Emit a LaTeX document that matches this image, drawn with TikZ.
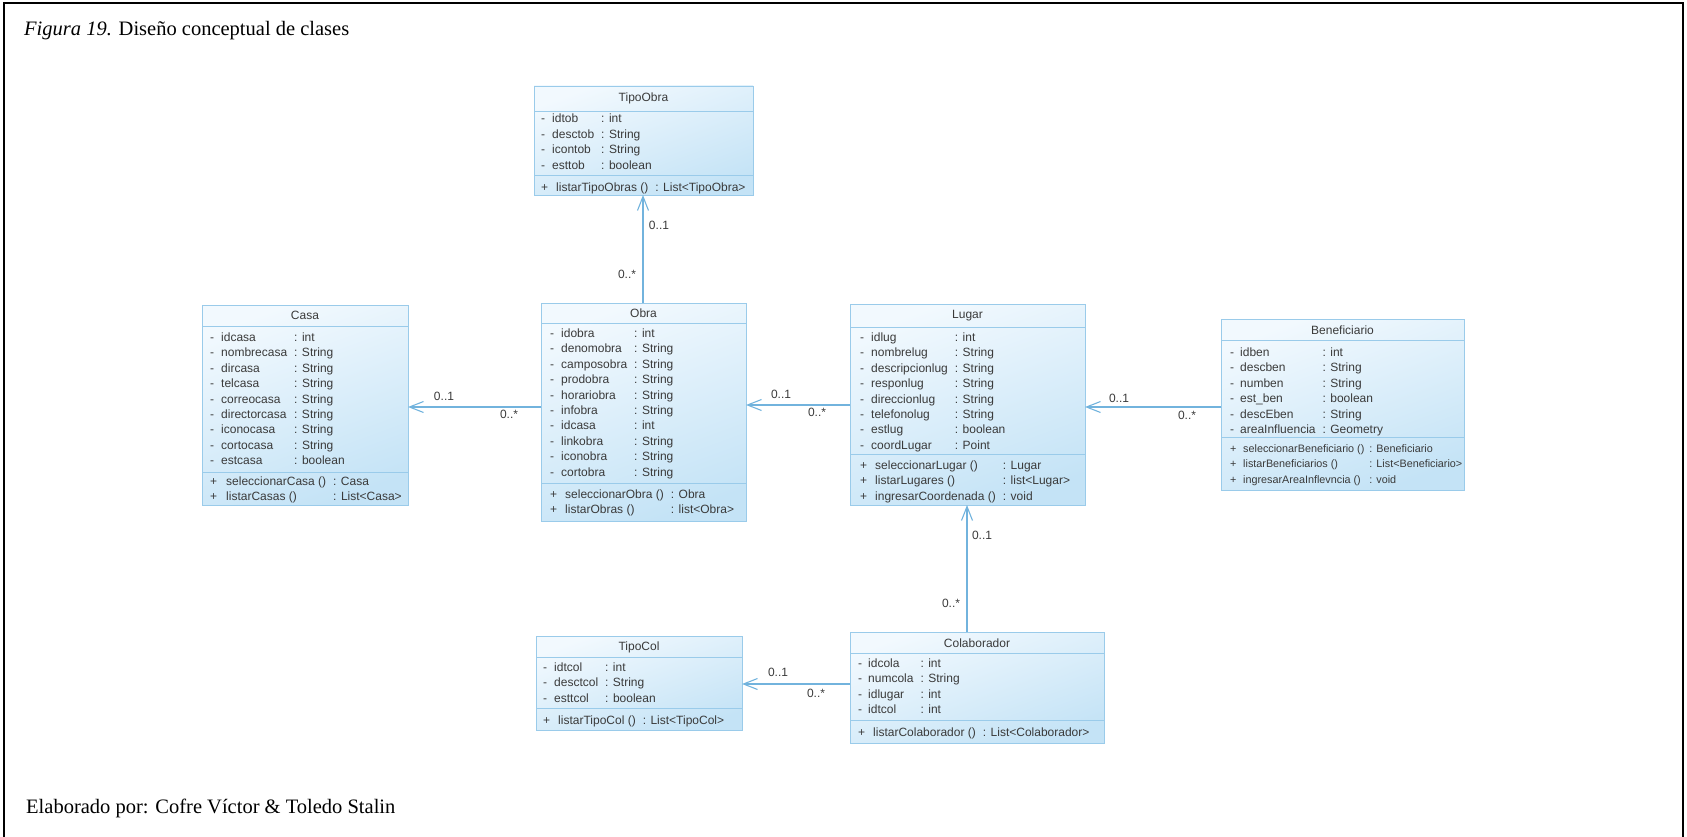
\documentclass[tikz,border=0pt]{standalone}
\usepackage{fontspec}
\setmainfont{Liberation Serif}
\newfontfamily\umlfont{Liberation Sans}
\usepackage{array}
\usetikzlibrary{arrows.meta}

\definecolor{umlline}{HTML}{9ACBEA}
\definecolor{umllight}{HTML}{F2F9FE}
\definecolor{umldark}{HTML}{C4E3F6}
\definecolor{umlink}{HTML}{3A3A3A}
\definecolor{assoccol}{HTML}{72B3DD}

% member list: visibility mark, name, type (types aligned in one column)
\newcommand\membertab[2]{\begin{tabular}{@{}w{l}{#1}@{}l@{\hspace{7pt}}l@{}}#2\end{tabular}}
\newcommand\narrowtab[2]{\begin{tabular}{@{}w{l}{#1}@{}l@{\hspace{5pt}}l@{}}#2\end{tabular}}

\tikzset{
  classbox/.style={draw=umlline, line width=0.9pt, shading=axis,
    top color=umllight, bottom color=umldark, shading angle=20,
    inner sep=0pt, outer sep=0pt, anchor=north west},
  divider/.style={draw=umlline, line width=0.9pt},
  classname/.style={font=\umlfont\fontsize{12}{15.4}\selectfont, text=umlink, inner sep=0pt},
  members/.style={font=\umlfont\fontsize{12}{15.4}\selectfont, text=umlink, inner sep=0pt, anchor=north west},
  assoc/.style={draw=assoccol, line width=1.1pt, -{Straight Barb[length=14pt,width=11pt]}},
  mult/.style={font=\umlfont\fontsize{12}{14}\selectfont, text=umlink, inner sep=0pt},
  caption/.style={font=\fontsize{20.5}{24}\selectfont, inner sep=0pt, anchor=base west},
}

\begin{document}
\begin{tikzpicture}[x=1pt,y=-1pt]
\useasboundingbox (0,0) rectangle (1687,837);

% frame
\draw[line width=2.5pt] (4,845) -- (4,3) -- (1683,3) -- (1683,845);

\node[caption] (title) at (24,36) {\textit{Figura 19.} Diseño conceptual de clases};
\node[caption] (credit) at (26,813) {Elaborado por: Cofre Víctor \& Toledo Stalin};

% ---------- TipoObra
\node[classbox, minimum width=219pt, minimum height=109pt] (tipoobra) at (534,86) {};
\draw[divider] (tipoobra.west |- 0,111) -- (tipoobra.east |- 0,111);
\draw[divider] (tipoobra.west |- 0,175) -- (tipoobra.east |- 0,175);
\node[classname] (tipoobra-n) at (tipoobra.north |- 0,98.5) {TipoObra};
\node[members] (tipoobra-a) at (541,112) {\membertab{11pt}{%
- & idtob & : int\\
- & desctob & : String\\
- & icontob & : String\\
- & esttob & : boolean}};
\node[members] (tipoobra-m) at (541,180.5) {\membertab{15pt}{%
+ & listarTipoObras () & : List<TipoObra>}};

% ---------- Casa
\node[classbox, minimum width=206pt, minimum height=200pt] (casa) at (202,305) {};
\draw[divider] (casa.west |- 0,326) -- (casa.east |- 0,326);
\draw[divider] (casa.west |- 0,472) -- (casa.east |- 0,472);
\node[classname] (casa-n) at (casa.north |- 0,315.5) {Casa};
\node[members] (casa-a) at (210,330.5) {\membertab{11pt}{%
- & idcasa & : int\\
- & nombrecasa & : String\\
- & dircasa & : String\\
- & telcasa & : String\\
- & correocasa & : String\\
- & directorcasa & : String\\
- & iconocasa & : String\\
- & cortocasa & : String\\
- & estcasa & : boolean}};
\node[members] (casa-m) at (210,474.5) {\membertab{16pt}{%
+ & seleccionarCasa () & : Casa\\
+ & listarCasas () & : List<Casa>}};

% ---------- Obra
\node[classbox, minimum width=205pt, minimum height=218pt] (obra) at (541,303) {};
\draw[divider] (obra.west |- 0,323) -- (obra.east |- 0,323);
\draw[divider] (obra.west |- 0,483) -- (obra.east |- 0,483);
\node[classname] (obra-n) at (obra.north |- 0,313) {Obra};
\node[members] (obra-a) at (550,326.5) {\membertab{11pt}{%
- & idobra & : int\\
- & denomobra & : String\\
- & camposobra & : String\\
- & prodobra & : String\\
- & horariobra & : String\\
- & infobra & : String\\
- & idcasa & : int\\
- & linkobra & : String\\
- & iconobra & : String\\
- & cortobra & : String}};
\node[members] (obra-m) at (550,487.5) {\membertab{15pt}{%
+ & seleccionarObra () & : Obra\\
+ & listarObras () & : list<Obra>}};

% ---------- Lugar
\node[classbox, minimum width=235pt, minimum height=201pt] (lugar) at (850,304) {};
\draw[divider] (lugar.west |- 0,327) -- (lugar.east |- 0,327);
\draw[divider] (lugar.west |- 0,454) -- (lugar.east |- 0,454);
\node[classname] (lugar-n) at (lugar.north |- 0,316) {Lugar};
\node[members] (lugar-a) at (860,330.5) {\membertab{11pt}{%
- & idlug & : int\\
- & nombrelug & : String\\
- & descripcionlug & : String\\
- & responlug & : String\\
- & direccionlug & : String\\
- & telefonolug & : String\\
- & estlug & : boolean\\
- & coordLugar & : Point}};
\node[members] (lugar-m) at (860,458.5) {\membertab{15pt}{%
+ & seleccionarLugar () & : Lugar\\
+ & listarLugares () & : list<Lugar>\\
+ & ingresarCoordenada () & : void}};

% ---------- Beneficiario
\node[classbox, minimum width=243pt, minimum height=171pt] (benef) at (1221,319) {};
\draw[divider] (benef.west |- 0,340) -- (benef.east |- 0,340);
\draw[divider] (benef.west |- 0,437) -- (benef.east |- 0,437);
\node[classname] (benef-n) at (benef.north |- 0,330) {Beneficiario};
\node[members] (benef-a) at (1230,345.5) {\membertab{10pt}{%
- & idben & : int\\
- & descben & : String\\
- & numben & : String\\
- & est\_ben & : boolean\\
- & descEben & : String\\
- & areaInfluencia & : Geometry}};
\node[members, font=\umlfont\fontsize{10.8}{15.4}\selectfont] (benef-m) at (1230,441.5) {\narrowtab{13pt}{%
+ & seleccionarBeneficiario () & : Beneficiario\\
+ & listarBeneficiarios () & : List<Beneficiario>\\
+ & ingresarAreaInflevncia () & : void}};

% ---------- TipoCol
\node[classbox, minimum width=206pt, minimum height=94pt] (tipocol) at (536,636) {};
\draw[divider] (tipocol.west |- 0,657) -- (tipocol.east |- 0,657);
\draw[divider] (tipocol.west |- 0,708) -- (tipocol.east |- 0,708);
\node[classname] (tipocol-n) at (tipocol.north |- 0,647) {TipoCol};
\node[members] (tipocol-a) at (543,660.5) {\membertab{11pt}{%
- & idtcol & : int\\
- & desctcol & : String\\
- & esttcol & : boolean}};
\node[members] (tipocol-m) at (543,713.5) {\membertab{15pt}{%
+ & listarTipoCol () & : List<TipoCol>}};

% ---------- Colaborador
\node[classbox, minimum width=254pt, minimum height=111pt] (colab) at (850,632) {};
\draw[divider] (colab.west |- 0,653) -- (colab.east |- 0,653);
\draw[divider] (colab.west |- 0,720) -- (colab.east |- 0,720);
\node[classname] (colab-n) at (colab.north |- 0,643) {Colaborador};
\node[members] (colab-a) at (858,656.5) {\membertab{10pt}{%
- & idcola & : int\\
- & numcola & : String\\
- & idlugar & : int\\
- & idtcol & : int}};
\node[members] (colab-m) at (858,725.5) {\membertab{15pt}{%
+ & listarColaborador () & : List<Colaborador>}};

% ---------- associations
\draw[assoc] (obra.north -| 643,0) -- (tipoobra.south -| 643,0);
\node[mult] (m-to-1) at (659,225) {0..1};
\node[mult] (m-to-2) at (627,274) {0..*};

\draw[assoc] (obra.west |- 0,407) -- (casa.east |- 0,407);
\node[mult] (m-ca-1) at (444,396) {0..1};
\node[mult] (m-ca-2) at (509,414) {0..*};

\draw[assoc] (lugar.west |- 0,405) -- (obra.east |- 0,405);
\node[mult] (m-ob-1) at (781,394) {0..1};
\node[mult] (m-ob-2) at (817,412) {0..*};

\draw[assoc] (benef.west |- 0,407) -- (lugar.east |- 0,407);
\node[mult] (m-lu-1) at (1119,398) {0..1};
\node[mult] (m-lu-2) at (1187,415) {0..*};

\draw[assoc] (colab.north -| 967,0) -- (lugar.south -| 967,0);
\node[mult] (m-cl-1) at (982,535) {0..1};
\node[mult] (m-cl-2) at (951,603) {0..*};

\draw[assoc] (colab.west |- 0,684) -- (tipocol.east |- 0,684);
\node[mult] (m-tc-1) at (778,672) {0..1};
\node[mult] (m-tc-2) at (816,693) {0..*};
\end{tikzpicture}
\end{document}
